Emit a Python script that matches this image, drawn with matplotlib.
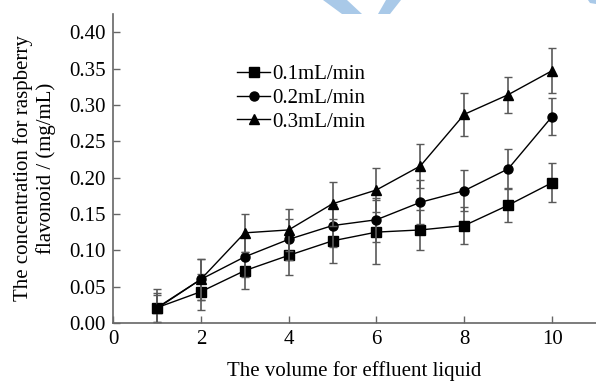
import numpy as np
import matplotlib
matplotlib.use('Agg')
import matplotlib.pyplot as plt
from matplotlib.patches import Polygon

plt.rcParams['font.family'] = ['Liberation Serif', 'DejaVu Serif']

## data
volume = [1, 2, 3, 4, 5, 6, 7, 8, 9, 10]
labels = ['0.1mL/min', '0.2mL/min', '0.3mL/min']
markers = ['s', 'o', '^']

conc_01 = [0.021, 0.043, 0.072, 0.093, 0.113, 0.125, 0.128, 0.134, 0.162, 0.193]
err_01 = [0.020, 0.025, 0.025, 0.027, 0.030, 0.044, 0.028, 0.025, 0.023, 0.027]
conc_02 = [0.020, 0.060, 0.091, 0.115, 0.134, 0.142, 0.166, 0.182, 0.212, 0.284]
err_02 = [0.018, 0.028, 0.028, 0.028, 0.030, 0.030, 0.030, 0.028, 0.028, 0.025]
conc_03 = [0.021, 0.060, 0.124, 0.128, 0.164, 0.183, 0.216, 0.287, 0.314, 0.347]
err_03 = [0.026, 0.028, 0.026, 0.029, 0.030, 0.030, 0.030, 0.030, 0.025, 0.031]

series = [(conc_01, err_01), (conc_02, err_02), (conc_03, err_03)]

W, H = 596, 381
fig = plt.figure(figsize=(W / 100, H / 100), dpi=100)
ax = fig.add_axes([113 / W, 1 - 323 / H, 1 - 113 / W, 309 / H])

# light blue watermark at the top edge
for pts in [[(323, 0), (347, 0), (362, 14), (342, 14)],
            [(386, 0), (401, 0), (390, 14), (378, 14)],
            [(588, 0), (596, 0), (596, 4), (590, 3)]]:
    fig.patches.append(Polygon([(x / W, 1 - y / H) for x, y in pts], closed=True,
                               transform=fig.transFigure, facecolor='#a9c9e8',
                               edgecolor='none'))

for (y, e), m, lab in zip(series, markers, labels):
    ax.errorbar(volume, y, yerr=e, fmt='none', ecolor='0.35', elinewidth=1.2,
                capsize=3, capthick=1.0)
    ax.plot(volume, y, color='black', lw=1.0, marker=m, ms=6.5, label=lab)

ax.set_xlim(0, 11)
ax.set_ylim(0, 0.425)
ax.set_xticks([0, 2, 4, 6, 8, 10])
ax.set_yticks(np.arange(0, 0.41, 0.05))
ax.set_yticklabels(['%.2f' % v for v in np.arange(0, 0.41, 0.05)])
ax.tick_params(direction='in', length=5, width=1, labelsize=15, color='0.4')
ax.tick_params(axis='x', pad=5)
ax.tick_params(axis='y', pad=5)
for s in ['top', 'right']:
    ax.spines[s].set_visible(False)
for s in ['left', 'bottom']:
    ax.spines[s].set_color('0.4')
    ax.spines[s].set_linewidth(1.2)

ax.set_xlabel('The volume for effluent liquid', fontsize=15, labelpad=9)
ax.set_ylabel('The concentration for raspberry\nflavonoid / (mg/mL)', fontsize=15,
              labelpad=10, linespacing=1.15)

ax.legend(loc='upper left', bbox_to_anchor=(0.236, 0.87), frameon=False, fontsize=15,
          handlelength=1.55, handletextpad=0.1, labelspacing=0.2, borderpad=0)

fig.savefig('out.png', dpi=100)
